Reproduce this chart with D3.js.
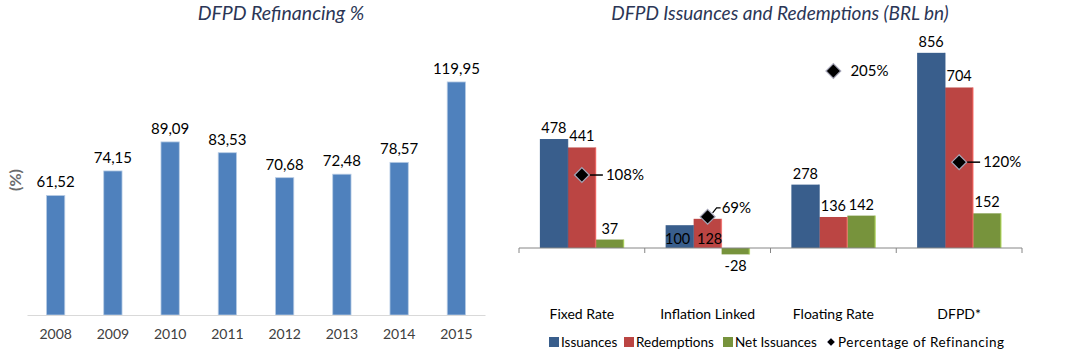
<!DOCTYPE html>
<html>
<head>
<meta charset="utf-8">
<script src="https://cdn.jsdelivr.net/npm/d3@7"></script>
<style>
  body { margin: 0; background: #fff; }
  svg { font-family: Lato, "Open Sans", sans-serif; }
  .title { font-style: italic; fill: #2b3656; }
</style>
</head>
<body>
<svg id="chart" width="1083" height="354"></svg>
<script>
// left chart data
var years = ['2008', '2009', '2010', '2011', '2012', '2013', '2014', '2015'];
var refinancing = [61.52, 74.15, 89.09, 83.53, 70.68, 72.48, 78.57, 119.95];
var refLabels = ['61,52', '74,15', '89,09', '83,53', '70,68', '72,48', '78,57', '119,95'];

// right chart data
var categories = ['Fixed Rate', 'Inflation Linked', 'Floating Rate', 'DFPD*'];
var seriesNames = ['Issuances', 'Redemptions', 'Net Issuances'];
var issuances = [478, 100, 278, 856];
var redemptions = [441, 128, 136, 704];
var netIssuances = [37, -28, 142, 152];
var pctRefinancing = [108, 69, 205, 120];

var colors = ['#395e8c', '#bb4543', '#77933c'];

var svg = d3.select('#chart');

//////////////////////////////////////////////////////////////
// left chart: refinancing %
var x1 = d3.scaleBand().domain(years).range([27, 485]).paddingInner(0.68).paddingOuter(0.34);
var y1 = d3.scaleLinear().domain([0, 140]).range([315, 43]);

svg.append('text').attr('class', 'title')
    .attr('x', 281).attr('y', 20).attr('text-anchor', 'middle')
    .attr('font-size', 19.5)
    .text('DFPD Refinancing %');

svg.append('text')
    .attr('transform', 'translate(21,180) rotate(-90)')
    .attr('text-anchor', 'middle')
    .attr('font-size', 16).attr('font-weight', 'bold').attr('fill', '#6b6b6b')
    .text('(%)');

var left = svg.append('g');

left.selectAll('rect.ref')
    .data(refinancing)
    .enter().append('rect')
    .attr('class', 'ref')
    .attr('x', function (d, i) { return x1(years[i]); })
    .attr('y', function (d) { return y1(d); })
    .attr('width', x1.bandwidth())
    .attr('height', function (d) { return y1(0) - y1(d); })
    .attr('fill', '#4f81bd')
    .attr('stroke', '#b9cde5').attr('stroke-width', 0.8);

left.selectAll('text.val')
    .data(refinancing)
    .enter().append('text')
    .attr('class', 'val')
    .attr('x', function (d, i) { return x1(years[i]) + x1.bandwidth() / 2; })
    .attr('y', function (d) { return y1(d) - 8; })
    .attr('text-anchor', 'middle')
    .attr('font-size', 15).attr('fill', '#000')
    .text(function (d, i) { return refLabels[i]; });

var xAxis1 = d3.axisBottom(x1).tickSize(0).tickPadding(14);
left.append('g')
    .attr('transform', 'translate(0,' + y1(0) + ')')
    .call(xAxis1)
    .call(function (g) {
        g.select('.domain').attr('stroke', '#d9d9d9');
        g.selectAll('text').attr('font-size', 14).attr('fill', '#404040')
            .attr('font-family', 'Lato, sans-serif');
    });

//////////////////////////////////////////////////////////////
// right chart: issuances and redemptions
var x2 = d3.scaleBand().domain(categories).range([519, 1022]).paddingInner(0).paddingOuter(0);
var xs = d3.scaleBand().domain(seriesNames).range([0, 84]);
var groupOffset = (x2.bandwidth() - 84) / 2;
var y2 = d3.scaleLinear().domain([-100, 900]).range([270.8, 42.8]);
var yPct = d3.scaleLinear().domain([0, 200]).range([290.8, 76.4]);

svg.append('text').attr('class', 'title')
    .attr('x', 780).attr('y', 20).attr('text-anchor', 'middle')
    .attr('font-size', 19)
    .text('DFPD Issuances and Redemptions (BRL bn)');

var right = svg.append('g');

var rows = categories.map(function (c, i) {
    return { cat: c, vals: [issuances[i], redemptions[i], netIssuances[i]] };
});

var groups = right.selectAll('g.grp')
    .data(rows)
    .enter().append('g')
    .attr('class', 'grp')
    .attr('transform', function (d) { return 'translate(' + (x2(d.cat) + groupOffset) + ',0)'; });

groups.selectAll('rect')
    .data(function (d) { return d.vals; })
    .enter().append('rect')
    .attr('x', function (d, i) { return xs(seriesNames[i]); })
    .attr('y', function (d) { return y2(Math.max(0, d)); })
    .attr('width', xs.bandwidth())
    .attr('height', function (d) { return Math.abs(y2(d) - y2(0)); })
    .attr('fill', function (d, i) { return colors[i]; });

// faint right edge like the original
groups.selectAll('rect.edge')
    .data(function (d) { return d.vals; })
    .enter().append('rect')
    .attr('class', 'edge')
    .attr('x', function (d, i) { return xs(seriesNames[i]) + xs.bandwidth() - 1; })
    .attr('y', function (d) { return y2(Math.max(0, d)); })
    .attr('width', 1.5)
    .attr('height', function (d) { return Math.abs(y2(d) - y2(0)); })
    .attr('fill', function (d, i) { return i == 0 ? colors[0] : d3.color(colors[i]).brighter(1.2); })
    .attr('opacity', 0.6);

// value labels (inflation linked issuances/redemptions sit inside the bar)
groups.selectAll('text.val')
    .data(function (d, gi) { return d.vals.map(function (v) { return { v: v, g: gi }; }); })
    .enter().append('text')
    .attr('class', 'val')
    .attr('x', function (d, i) {
        var cx = xs(seriesNames[i]) + xs.bandwidth() / 2;
        if (d.g == 1 && i < 2) cx += (i == 0 ? -2 : 2);
        return cx;
    })
    .attr('y', function (d, i) {
        if (d.g == 1 && i < 2) return y2(0) - 4;
        if (d.v < 0) return y2(d.v) + 17;
        return y2(d.v) - 6;
    })
    .attr('text-anchor', 'middle')
    .attr('font-size', 14.5).attr('fill', '#000')
    .text(function (d) { return d.v; });

// x axis with tick marks between groups
var axisY = y2(0);
right.append('line')
    .attr('x1', 519).attr('x2', 1022).attr('y1', axisY).attr('y2', axisY)
    .attr('stroke', '#868686');
var tickPos = categories.map(function (c) { return x2(c); }).concat([x2.range()[1]]);
right.selectAll('line.tk')
    .data(tickPos)
    .enter().append('line')
    .attr('class', 'tk')
    .attr('x1', function (d) { return d; }).attr('x2', function (d) { return d; })
    .attr('y1', axisY).attr('y2', axisY + 5)
    .attr('stroke', '#868686');

right.selectAll('text.cat')
    .data(categories)
    .enter().append('text')
    .attr('class', 'cat')
    .attr('x', function (d) { return x2(d) + x2.bandwidth() / 2; })
    .attr('y', 319)
    .attr('text-anchor', 'middle')
    .attr('font-size', 14).attr('fill', '#000')
    .text(function (d) { return d; });

// percentage of refinancing markers
var pctOffsets = [[8, 24, 0], [6, 14, -9], [null, 17, 0], [8, 24, 0]];
var mk = right.selectAll('g.pct')
    .data(pctRefinancing)
    .enter().append('g')
    .attr('class', 'pct')
    .attr('transform', function (d, i) {
        return 'translate(' + (x2(categories[i]) + x2.bandwidth() / 2) + ',' + yPct(d) + ')';
    });

mk.each(function (d, i) {
    var g = d3.select(this);
    var o = pctOffsets[i];
    if (o[0] !== null) {
        if (i == 1) {
            g.append('path').attr('d', 'M5,-4 L9,-9 L13,-9').attr('fill', 'none')
                .attr('stroke', '#000').attr('stroke-width', 1.2);
        } else {
            g.append('line').attr('x1', o[0]).attr('x2', o[1] - 3).attr('y1', 0).attr('y2', 0)
                .attr('stroke', '#000').attr('stroke-width', 1.5);
        }
    }
    g.append('path')
        .attr('d', d3.symbol().type(d3.symbolDiamond2).size(140))
        .attr('fill', '#000').attr('stroke', '#a6a6b8').attr('stroke-width', 1.2);
    g.append('text')
        .attr('x', o[1]).attr('y', o[2] + 5)
        .attr('font-size', 15).attr('fill', '#000')
        .text(d + '%');
});

// legend
var legend = right.append('g').attr('transform', 'translate(0,342)');
var legX = [549, 624, 723];
seriesNames.forEach(function (s, i) {
    legend.append('rect').attr('x', legX[i]).attr('y', -5).attr('width', 10).attr('height', 10)
        .attr('fill', colors[i]);
    legend.append('text').attr('x', legX[i] + 12).attr('y', 5)
        .attr('font-size', 13.5).attr('fill', '#000').text(s);
});
legend.append('path')
    .attr('d', d3.symbol().type(d3.symbolDiamond2).size(40))
    .attr('transform', 'translate(831,0)')
    .attr('fill', '#000').attr('stroke', '#a6a6b8');
legend.append('text').attr('x', 838).attr('y', 5)
    .attr('font-size', 13.5).attr('letter-spacing', 0.5).attr('fill', '#000').text('Percentage of Refinancing');
</script>
</body>
</html>
